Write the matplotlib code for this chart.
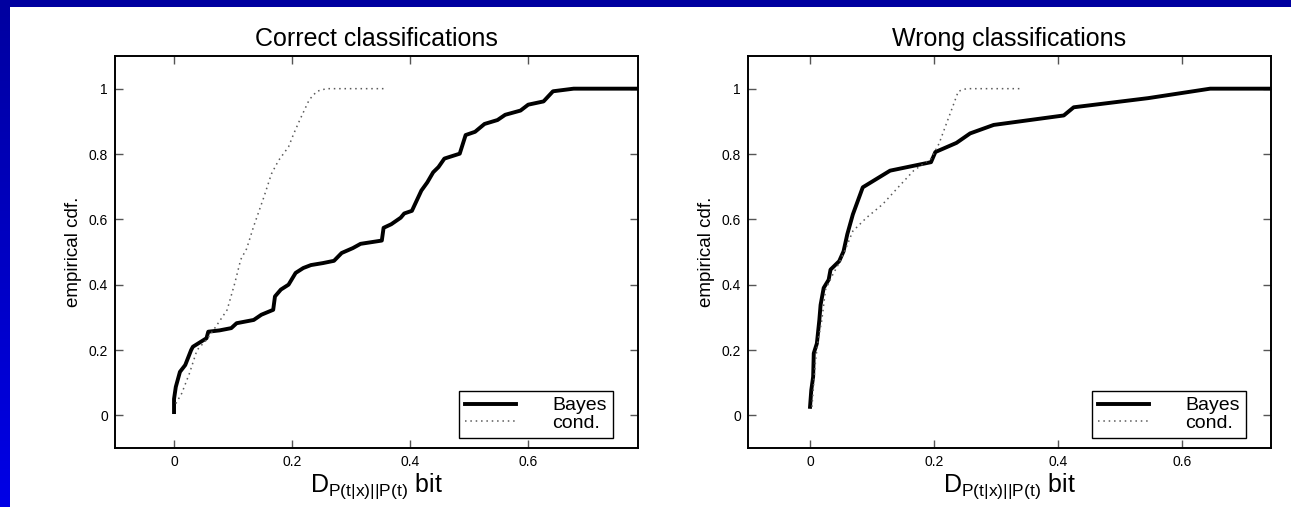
import matplotlib
matplotlib.use('Agg')
import matplotlib.pyplot as plt
import numpy as np

# ---- data ----
# correct classifications
correct_bayes_x = [0.0, 0.0, 0.003, 0.01, 0.019, 0.029, 0.032, 0.055, 0.058, 0.077, 0.097,
                   0.106, 0.135, 0.148, 0.168, 0.171, 0.181, 0.194, 0.206, 0.219, 0.232,
                   0.252, 0.271, 0.284, 0.303, 0.316, 0.352, 0.355, 0.368, 0.384, 0.39,
                   0.403, 0.419, 0.429, 0.439, 0.448, 0.458, 0.484, 0.494, 0.51, 0.526,
                   0.548, 0.561, 0.587, 0.6, 0.626, 0.642, 0.677, 0.79]
correct_bayes_y = [0.01, 0.05, 0.087, 0.133, 0.154, 0.2, 0.21, 0.236, 0.256, 0.26, 0.267,
                   0.282, 0.292, 0.308, 0.323, 0.364, 0.385, 0.4, 0.436, 0.451, 0.46,
                   0.466, 0.473, 0.497, 0.512, 0.525, 0.535, 0.574, 0.585, 0.605, 0.618,
                   0.626, 0.688, 0.713, 0.744, 0.76, 0.786, 0.801, 0.858, 0.868, 0.892,
                   0.904, 0.92, 0.933, 0.951, 0.961, 0.992, 1.0, 1.0]
correct_cond_x = [0.003, 0.013, 0.026, 0.039, 0.055, 0.071, 0.09, 0.103, 0.113, 0.123,
                  0.135, 0.152, 0.165, 0.177, 0.194, 0.203, 0.213, 0.229, 0.242, 0.258, 0.358]
correct_cond_y = [0.036, 0.067, 0.128, 0.2, 0.231, 0.272, 0.323, 0.405, 0.477, 0.51,
                  0.579, 0.667, 0.739, 0.78, 0.822, 0.863, 0.904, 0.966, 0.992, 1.0, 1.0]

# wrong classifications
wrong_bayes_x = [0.0, 0.002, 0.005, 0.006, 0.011, 0.015, 0.017, 0.022, 0.03, 0.033, 0.047,
                 0.054, 0.06, 0.069, 0.085, 0.129, 0.195, 0.202, 0.236, 0.258, 0.296,
                 0.409, 0.425, 0.545, 0.645, 0.75]
wrong_bayes_y = [0.026, 0.077, 0.118, 0.19, 0.22, 0.292, 0.338, 0.39, 0.415, 0.446, 0.472,
                 0.502, 0.554, 0.615, 0.698, 0.749, 0.775, 0.806, 0.834, 0.863, 0.889,
                 0.918, 0.943, 0.971, 1.0, 1.0]
wrong_cond_x = [0.003, 0.006, 0.009, 0.013, 0.019, 0.025, 0.035, 0.047, 0.057, 0.069,
                0.091, 0.117, 0.142, 0.167, 0.195, 0.208, 0.22, 0.23, 0.239, 0.252, 0.34]
wrong_cond_y = [0.026, 0.098, 0.17, 0.23, 0.292, 0.385, 0.425, 0.467, 0.508, 0.564,
                0.605, 0.646, 0.698, 0.749, 0.786, 0.832, 0.894, 0.945, 0.992, 1.0, 1.0]

titles = ['Correct classifications', 'Wrong classifications']
series_labels = ['Bayes', 'cond.']
x_ticks = [0, 0.2, 0.4, 0.6]
x_ticklabels = ['0', '0.2', '0.4', '0.6']
y_ticks = [0, 0.2, 0.4, 0.6, 0.8, 1]
y_ticklabels = ['0', '0.2', '0.4', '0.6', '0.8', '1']
x_limits = [(-0.1, 0.786), (-0.1, 0.743)]

plt.rcParams['font.family'] = ['Liberation Sans', 'DejaVu Sans']
plt.rcParams['mathtext.fontset'] = 'custom'
plt.rcParams['mathtext.rm'] = 'Liberation Sans'
plt.rcParams['mathtext.it'] = 'Liberation Sans'

W, H = 1291, 507
fig = plt.figure(figsize=(W / 100, H / 100), dpi=100)
fig.patch.set_facecolor('white')

# slide border: dark band on top, blue band on the left
top = fig.add_axes([0, 1 - 7 / H, 1, 7 / H])
top.set_axis_off()
top.add_patch(plt.Rectangle((0, 0), 1, 1, transform=top.transAxes, color='#0000a0'))
side = fig.add_axes([0, 0, 10 / W, 1])
side.set_axis_off()
grad = np.linspace(0, 1, 200).reshape(-1, 1)
cmap = matplotlib.colors.LinearSegmentedColormap.from_list('slide', ['#0000a0', '#0000e6'])
side.imshow(grad, aspect='auto', cmap=cmap, extent=[0, 1, 1, 0])


def draw_panel(ax, bx, by, cx, cy, title, xlim):
    ax.plot(bx, by, '-', color='black', lw=2.8, solid_joinstyle='round', label=series_labels[0])
    ax.plot(cx, cy, color='#5a5a5a', lw=1.1, linestyle=(0, (1, 2.5)), label=series_labels[1])
    ax.set_xlim(*xlim)
    ax.set_ylim(-0.1, 1.1)
    ax.set_xticks(x_ticks)
    ax.set_xticklabels(x_ticklabels)
    ax.set_yticks(y_ticks)
    ax.set_yticklabels(y_ticklabels)
    ax.tick_params(direction='in', length=6, width=1, color='#555555',
                   top=True, right=True, labelsize=10, pad=5)
    for s in ax.spines.values():
        s.set_linewidth(1.4)
    ax.set_title(title, fontsize=18, pad=7)
    ax.set_ylabel('empirical cdf.', fontsize=13.5, labelpad=5)
    ax.set_xlabel(r'$\mathrm{D_{P(t|x)||P(t)}}$ bit', fontsize=18, labelpad=2)
    leg = ax.legend(loc='lower right', bbox_to_anchor=(0.952, 0.026), fontsize=14,
                    handlelength=2.6, handletextpad=1.9, labelspacing=0.0,
                    borderpad=0.3, borderaxespad=0, fancybox=False, framealpha=1,
                    edgecolor='black')
    leg.get_frame().set_linewidth(1.0)


ax1 = fig.add_axes([115 / W, 59 / H, 523 / W, 392 / H])
draw_panel(ax1, correct_bayes_x, correct_bayes_y, correct_cond_x, correct_cond_y,
           titles[0], x_limits[0])
ax2 = fig.add_axes([748 / W, 59 / H, 523 / W, 392 / H])
draw_panel(ax2, wrong_bayes_x, wrong_bayes_y, wrong_cond_x, wrong_cond_y,
           titles[1], x_limits[1])

fig.savefig('out.png', dpi=100)
